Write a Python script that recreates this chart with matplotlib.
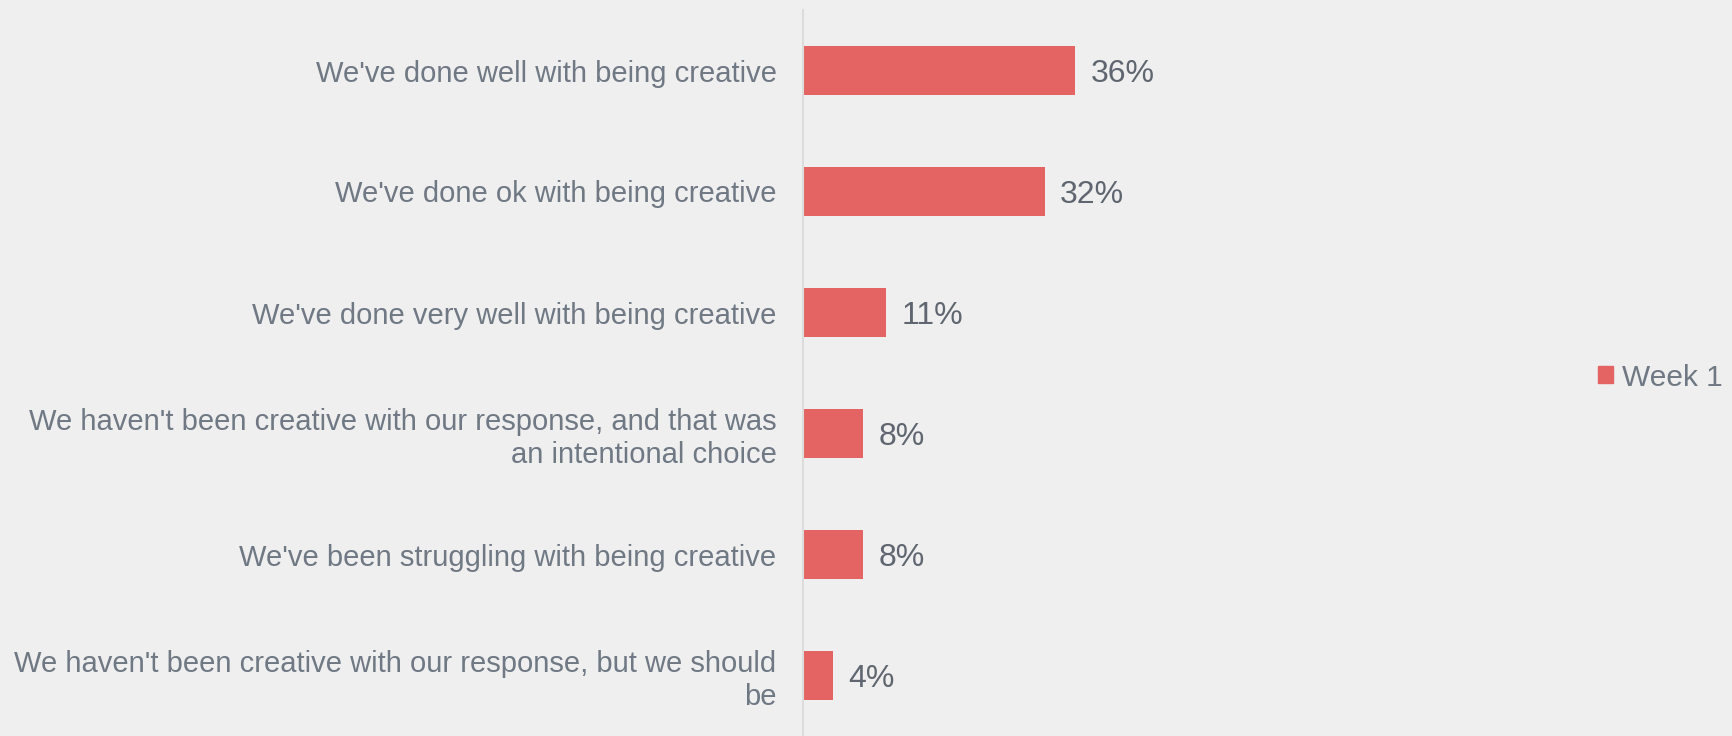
import matplotlib.pyplot as plt
from matplotlib.patches import Patch

categories = [
    "We've done well with being creative",
    "We've done ok with being creative",
    "We've done very well with being creative",
    "We haven't been creative with our response, and that was\nan intentional choice",
    "We've been struggling with being creative",
    "We haven't been creative with our response, but we should\nbe",
]
week1 = [0.36, 0.32, 0.11, 0.08, 0.08, 0.04]
series_name = "Week 1"

BG = "#efefef"
BAR = "#e46464"
LABEL_GREY = "#6f7883"
VALUE_GREY = "#5f6670"

plt.rcParams['font.family'] = ['Liberation Sans', 'DejaVu Sans']

fig = plt.figure(figsize=(17.32, 7.36), dpi=100, facecolor=BG)
ax = fig.add_axes([803 / 1732, 0.0, 756 / 1732, 726 / 736])
ax.set_facecolor(BG)

y = list(range(len(categories)))
ax.barh(y, week1, height=0.4, color=BAR)
ax.set_ylim(len(categories) - 0.5, -0.5)
ax.set_xlim(0, 1)

# value labels next to the bars
for yi, v in zip(y, week1):
    ax.annotate(f"{v:.0%}", (v, yi), xytext=(11, -2.4), textcoords="offset points",
                va="center", ha="left", fontsize=23, color=VALUE_GREY)

ax.set_yticks(y)
ax.set_yticklabels(categories, fontsize=21, color=LABEL_GREY, ha="right")
ax.tick_params(axis="y", length=0, pad=19)
ax.tick_params(axis="x", bottom=False, labelbottom=False)
for s in ["top", "right", "bottom"]:
    ax.spines[s].set_visible(False)
ax.spines["left"].set_color("#dcdcdc")
ax.spines["left"].set_linewidth(1.5)

fig.legend(handles=[Patch(color=BAR, label=series_name)], loc="center left",
           bbox_to_anchor=(1571 / 1732, 0.487), frameon=False, fontsize=21.5,
           labelcolor=LABEL_GREY, handlelength=0.5, handleheight=0.5,
           handletextpad=0.3)

fig.savefig("out.png", dpi=100, facecolor=BG)
